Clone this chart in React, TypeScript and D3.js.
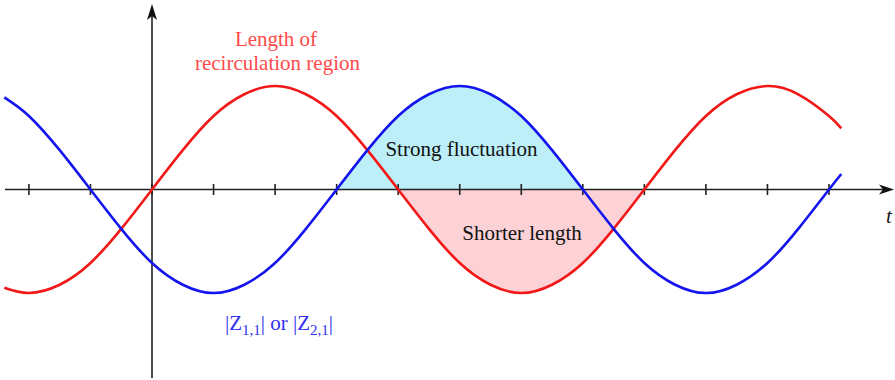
import React from 'react';
import * as d3 from 'd3';

// sample times, in tick units (one tick = one step on the t axis)
const sampleT = [-2.4, -2, -1.5, -1, -0.5, 0, 0.5, 1, 1.5, 2, 2.5, 3, 3.5, 4, 4.5, 5, 5.5, 6, 6.5, 7, 7.5, 8, 8.5, 9, 9.5, 10, 10.5, 11, 11.2];

// length of recirculation region (red)
const recircValues = [-0.95, -1, -0.92, -0.71, -0.38, 0, 0.38, 0.71, 0.92, 1, 0.92, 0.71, 0.38, 0, -0.38, -0.71, -0.92, -1, -0.92, -0.71, -0.38, 0, 0.38, 0.71, 0.92, 1, 0.92, 0.71, 0.59];

// |Z1,1| or |Z2,1| (blue)
const zValues = [0.89, 0.71, 0.38, 0, -0.38, -0.71, -0.92, -1, -0.92, -0.71, -0.38, 0, 0.38, 0.71, 0.92, 1, 0.92, 0.71, 0.38, 0, -0.38, -0.71, -0.92, -1, -0.92, -0.71, -0.38, 0, 0.15];

const tickValues = [-2, -1, 0, 1, 2, 3, 4, 5, 6, 7, 8, 9, 10, 11];

// shaded spans
const strongSpan = [3, 7];
const shorterSpan = [4, 8];

const W = 895;
const H = 380;

const x = d3.scaleLinear().domain([0, 11]).range([152, 829]);
const y = d3.scaleLinear().domain([-1, 1]).range([293, 86]);

type Pt = { t: number; v: number };

const red: Pt[] = sampleT.map((t, i) => ({ t, v: recircValues[i] }));
const blue: Pt[] = sampleT.map((t, i) => ({ t, v: zValues[i] }));

const line = d3
  .line<Pt>()
  .x((d) => x(d.t))
  .y((d) => y(d.v))
  .curve(d3.curveNatural);

const area = d3
  .area<Pt>()
  .x((d) => x(d.t))
  .y0(y(0))
  .y1((d) => y(d.v))
  .curve(d3.curveNatural);

const serif = "'Liberation Serif', 'Times New Roman', 'DejaVu Serif', serif";

export default function App() {
  const y0 = y(0);
  const ox = x(0);
  const strong = blue.filter((d) => d.t >= strongSpan[0] && d.t <= strongSpan[1]);
  const shorter = red.filter((d) => d.t >= shorterSpan[0] && d.t <= shorterSpan[1]);

  return (
    <svg
      width={W}
      height={H}
      style={{ position: 'absolute', left: 0, top: 0, background: '#fff' }}
    >
      {/* shaded regions */}
      <path d={area(strong) || ''} fill="#bdeff9" />
      <path d={area(shorter) || ''} fill="#fcd2d6" />

      {/* axes */}
      <line x1={5} x2={884} y1={y0} y2={y0} stroke="#222" strokeWidth={1.6} />
      <path
        d={`M${894},${y0} L${879},${y0 - 5} L${883},${y0} L${879},${y0 + 5} Z`}
        fill="#111"
      />
      <line x1={ox} x2={ox} y1={16} y2={378} stroke="#222" strokeWidth={1.6} />
      <path
        d={`M${ox},4 L${ox - 5},20 L${ox},16 L${ox + 5},20 Z`}
        fill="#111"
      />
      {tickValues.map((t) => (
        <line
          key={t}
          x1={x(t)}
          x2={x(t)}
          y1={y0 - 5.5}
          y2={y0 + 5.5}
          stroke="#222"
          strokeWidth={1.6}
        />
      ))}

      {/* curves */}
      <path d={line(red) || ''} fill="none" stroke="#f21818" strokeWidth={2.6} />
      <path d={line(blue) || ''} fill="none" stroke="#1414ee" strokeWidth={2.6} />

      {/* labels */}
      <g style={{ fontFamily: serif, fontSize: '21px' }}>
        <text x={276} y={46} textAnchor="middle" fill="#ff4a4a">Length of</text>
        <text x={277.5} y={70} textAnchor="middle" fill="#ff4a4a">recirculation region</text>
        <text x={461.5} y={156} textAnchor="middle" fill="#111">Strong fluctuation</text>
        <text x={522} y={240} textAnchor="middle" fill="#111">Shorter length</text>
        <text x={279} y={330} textAnchor="middle" fill="#3030ee">
          |Z<tspan style={{ fontSize: '15px' }} dy={5}>1,1</tspan>
          <tspan dy={-5}>| or |Z</tspan>
          <tspan style={{ fontSize: '15px' }} dy={5}>2,1</tspan>
          <tspan dy={-5}>|</tspan>
        </text>
        <text x={886} y={223} fontStyle="italic" fill="#111">t</text>
      </g>
    </svg>
  );
}
